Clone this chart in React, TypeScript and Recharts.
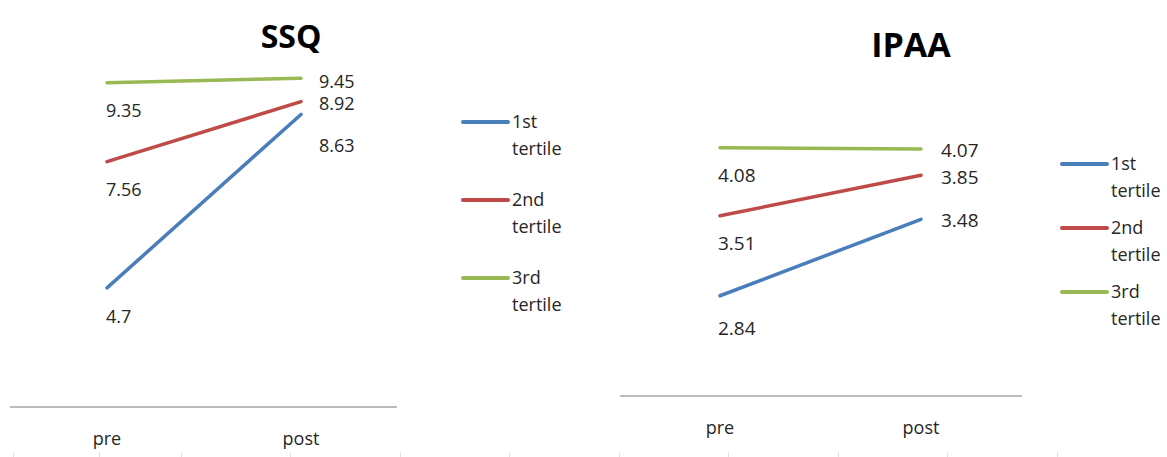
import React from 'react';
import { LineChart, Line, XAxis, YAxis, Legend } from 'recharts';

const categories = ['pre', 'post'];
const seriesNames = ['1st tertile', '2nd tertile', '3rd tertile'];
const seriesKeys = ['t1', 't2', 't3'];

const ssqFirst = [4.7, 8.63];
const ssqSecond = [7.56, 8.92];
const ssqThird = [9.35, 9.45];

const ipaaFirst = [2.84, 3.48];
const ipaaSecond = [3.51, 3.85];
const ipaaThird = [4.08, 4.07];

const colors = ['#4A7EBB', '#BE4B48', '#98B954'];
const FONT = '"Open Sans", "Noto Sans", sans-serif';
const TEXT = '#262626';

const ssqData = categories.map((c, i) => ({ name: c, t1: ssqFirst[i], t2: ssqSecond[i], t3: ssqThird[i] }));
const ipaaData = categories.map((c, i) => ({ name: c, t1: ipaaFirst[i], t2: ipaaSecond[i], t3: ipaaThird[i] }));

type LabelCfg = { preDx: number; preDy: number; postDx: number; postDy: number; fontSize: number };

function makeLabel(cfg: LabelCfg) {
  return (props: any) => {
    const { x, y, value, index } = props;
    if (x == null || y == null) return null;
    const isPre = index === 0;
    const cx = x + (isPre ? cfg.preDx : cfg.postDx);
    const cy = y + (isPre ? cfg.preDy : cfg.postDy);
    return (
      <text
        x={cx}
        y={cy + cfg.fontSize * 0.36}
        textAnchor="start"
        fontSize={cfg.fontSize}
        fontFamily={FONT}
        fill={TEXT}
      >
        {value}
      </text>
    );
  };
}

function makeLegend(spacing: number) {
  return (props: any) => {
    const payload = props.payload || [];
    return (
      <div style={{ fontFamily: FONT, fontSize: 18, color: TEXT }}>
        {payload.map((p: any, i: number) => {
          const words = String(p.value).split(' ');
          return (
            <div key={i} style={{ position: 'relative', height: spacing }}>
              <div
                style={{
                  position: 'absolute',
                  left: 0,
                  top: 12,
                  width: 49,
                  height: 4,
                  borderRadius: 2,
                  background: p.color,
                }}
              />
              <div style={{ position: 'absolute', left: 51, top: 0, lineHeight: '27px', whiteSpace: 'nowrap' }}>
                <div>{words[0]}</div>
                <div>{words.slice(1).join(' ')}</div>
              </div>
            </div>
          );
        })}
      </div>
    );
  };
}

const ssqLabels: LabelCfg[] = [
  { preDx: -1, preDy: 29, postDx: 18, postDy: 31, fontSize: 18 },
  { preDx: -1, preDy: 28, postDx: 18, postDy: 2, fontSize: 18 },
  { preDx: -1, preDy: 28, postDx: 18, postDy: 3, fontSize: 18 },
];
const ipaaLabels: LabelCfg[] = [
  { preDx: -2, preDy: 32, postDx: 20, postDy: 1, fontSize: 19 },
  { preDx: -2, preDy: 27, postDx: 20, postDy: 2, fontSize: 19 },
  { preDx: -2, preDy: 27, postDx: 20, postDy: 1, fontSize: 19 },
];

const gridMarks = [13, 99, 181, 290, 400, 509, 619, 728, 838, 947, 1057];

export default function App() {
  return (
    <div style={{ position: 'absolute', left: 0, top: 0, width: 1167, height: 457, background: '#ffffff', overflow: 'hidden' }}>
      {gridMarks.map((gx, i) => (
        <div key={i} style={{ position: 'absolute', left: gx, top: 452, width: 1, height: 5, background: '#e0e0e0' }} />
      ))}

      <div style={{ position: 'absolute', left: 0, top: 0, width: 420, height: 457 }}>
        <LineChart width={420} height={457} data={ssqData} margin={{ top: 54, right: 23, bottom: 0, left: 10 }}>
          <XAxis
            dataKey="name"
            height={50}
            interval={0}
            padding={{ left: 97, right: 96 }}
            axisLine={{ stroke: '#A6A6A6', strokeWidth: 1.5 }}
            tickLine={false}
            tickMargin={19}
            tick={{ fontSize: 18, fill: TEXT, fontFamily: FONT }}
          />
          <YAxis hide type="number" domain={[2, 10]} allowDataOverflow />
          <Legend
            layout="horizontal"
            verticalAlign="middle"
            align="center"
            content={makeLegend(78)}
            wrapperStyle={{ position: 'absolute', left: 461, top: 108, width: 130, height: 234 }}
          />
          {seriesKeys.map((k, i) => (
            <Line
              key={k}
              dataKey={k}
              name={seriesNames[i]}
              stroke={colors[i]}
              strokeWidth={3.5}
              strokeLinecap="round"
              dot={false}
              activeDot={false}
              isAnimationActive={false}
              label={makeLabel(ssqLabels[i])}
            />
          ))}
        </LineChart>
      </div>
      <div
        style={{
          position: 'absolute', left: 191, top: 16, width: 200, lineHeight: '40px', textAlign: 'center',
          fontFamily: FONT, fontWeight: 700, fontSize: 32, color: '#000000',
        }}
      >
        SSQ
      </div>

      <div style={{ position: 'absolute', left: 600, top: 0, width: 567, height: 457 }}>
        <LineChart width={567} height={457} data={ipaaData} margin={{ top: 38, right: 145, bottom: 0, left: 20 }}>
          <XAxis
            dataKey="name"
            height={61}
            interval={0}
            padding={{ left: 100, right: 101 }}
            axisLine={{ stroke: '#A6A6A6', strokeWidth: 1.5 }}
            tickLine={false}
            tickMargin={19}
            tick={{ fontSize: 18, fill: TEXT, fontFamily: FONT }}
          />
          <YAxis hide type="number" domain={[2, 5]} allowDataOverflow />
          <Legend
            layout="horizontal"
            verticalAlign="middle"
            align="center"
            content={makeLegend(64)}
            wrapperStyle={{ position: 'absolute', left: 460, top: 150, width: 107, height: 192 }}
          />
          {seriesKeys.map((k, i) => (
            <Line
              key={k}
              dataKey={k}
              name={seriesNames[i]}
              stroke={colors[i]}
              strokeWidth={3.5}
              strokeLinecap="round"
              dot={false}
              activeDot={false}
              isAnimationActive={false}
              label={makeLabel(ipaaLabels[i])}
            />
          ))}
        </LineChart>
      </div>
      <div
        style={{
          position: 'absolute', left: 811, top: 24, width: 200, lineHeight: '40px', textAlign: 'center',
          fontFamily: FONT, fontWeight: 700, fontSize: 34, color: '#000000',
        }}
      >
        IPAA
      </div>
    </div>
  );
}
